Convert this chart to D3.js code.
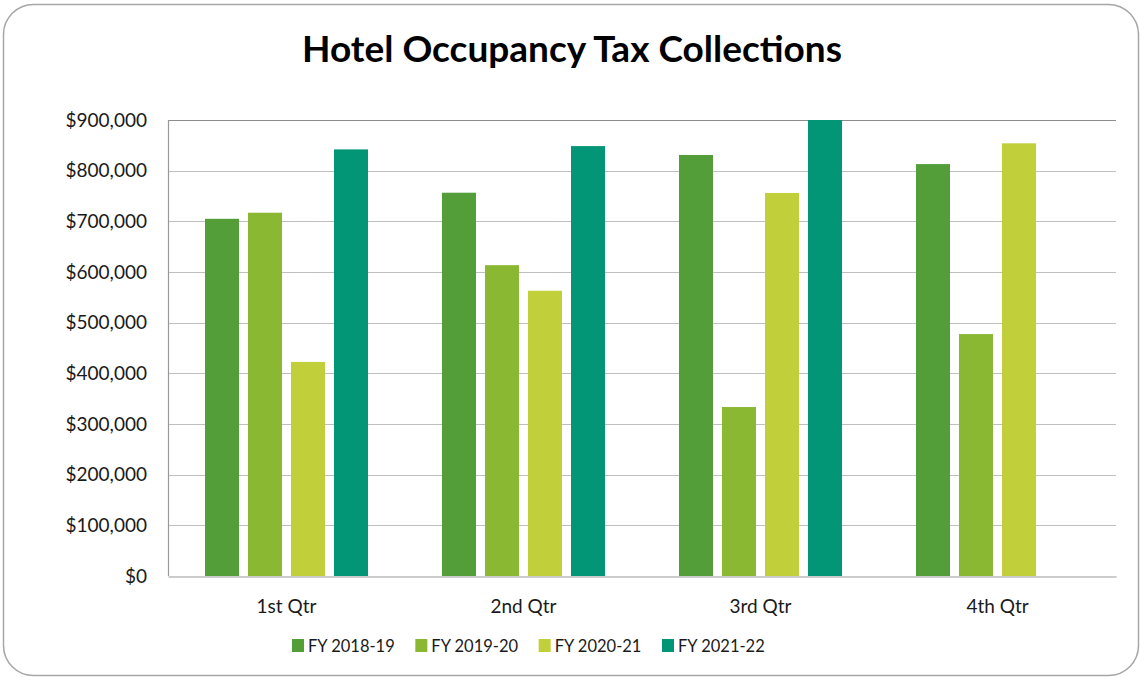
<!DOCTYPE html>
<html>
<head>
<meta charset="utf-8">
<script src="https://cdn.jsdelivr.net/npm/d3@7/dist/d3.min.js"></script>
<style>
  html, body { margin: 0; padding: 0; background: #fff; }
  svg { display: block; }
  text { font-family: Lato, "Open Sans", "Liberation Sans", sans-serif; }
</style>
</head>
<body>
<svg id="chart" width="1140" height="677"></svg>
<script>
// Quarterly hotel occupancy tax collections by fiscal year
const quarters = ["1st Qtr", "2nd Qtr", "3rd Qtr", "4th Qtr"];
const seriesNames = ["FY 2018-19", "FY 2019-20", "FY 2020-21", "FY 2021-22"];
const fy2018_19 = [705000, 756500, 831000, 813000];
const fy2019_20 = [717000, 613500, 333500, 477500];
const fy2020_21 = [422500, 563000, 756000, 854000];
const fy2021_22 = [842000, 848500, 900000, null];
const seriesColors = ["#549E39", "#8AB833", "#C0CF3A", "#029676"];
const yTicks = [0, 100000, 200000, 300000, 400000, 500000, 600000, 700000, 800000, 900000];

const seriesValues = [fy2018_19, fy2019_20, fy2020_21, fy2021_22];
const rows = quarters.map((q, qi) => ({
  quarter: q,
  values: seriesNames.map((s, si) => ({ series: s, value: seriesValues[si][qi] }))
}));

const svg = d3.select("#chart");
const W = 1140, H = 677;
const plot = { left: 168, right: 1116, top: 120, bottom: 576 };

// outer rounded frame
svg.append("rect")
  .attr("x", 3.5).attr("y", 4.5)
  .attr("width", W - 5).attr("height", H - 6)
  .attr("rx", 30).attr("ry", 30)
  .attr("fill", "#fff")
  .attr("stroke", "#a6a6a6").attr("stroke-width", 1.5);

// title
svg.append("text")
  .attr("x", 572).attr("y", 62)
  .attr("text-anchor", "middle")
  .attr("font-size", 37).attr("font-weight", 700)
  .attr("fill", "#000")
  .text("Hotel Occupancy Tax Collections");

const y = d3.scaleLinear().domain([0, 900000]).range([plot.bottom, plot.top]);
const x0 = d3.scaleBand().domain(quarters).range([plot.left, plot.right]).padding(0);
const x1 = d3.scaleBand().domain(seriesNames).range([0, x0.bandwidth()])
  .paddingInner(0.209).paddingOuter(0.86);
const color = d3.scaleOrdinal().domain(seriesNames).range(seriesColors);

// gridlines
svg.append("g")
  .selectAll("line")
  .data(yTicks.filter(t => t > 0))
  .join("line")
  .attr("x1", plot.left).attr("x2", plot.right)
  .attr("y1", d => Math.round(y(d)) + 0.5).attr("y2", d => Math.round(y(d)) + 0.5)
  .attr("stroke", d => d === 900000 ? "#8c8c8c" : "#bfbfbf")
  .attr("stroke-width", 1.2);

// y axis labels
const yAxis = d3.axisLeft(y).tickValues(yTicks).tickSize(0).tickPadding(21)
  .tickFormat(d => "$" + d3.format(",")(d));
const yG = svg.append("g").attr("transform", `translate(${plot.left},0)`).call(yAxis);
yG.select(".domain").remove();
yG.selectAll("text")
  .attr("font-size", 19).attr("fill", "#1a1a1a")
  .attr("font-family", "Lato, 'Open Sans', sans-serif");

// bars
svg.append("g")
  .selectAll("g")
  .data(rows)
  .join("g")
  .attr("transform", d => `translate(${x0(d.quarter)},0)`)
  .selectAll("rect")
  .data(d => d.values.filter(v => v.value != null))
  .join("rect")
  .attr("x", d => x1(d.series))
  .attr("width", x1.bandwidth())
  .attr("y", d => y(d.value))
  .attr("height", d => y(0) - y(d.value))
  .attr("fill", d => color(d.series));

// left and bottom axis lines
svg.append("line")
  .attr("x1", plot.left + 0.5).attr("x2", plot.left + 0.5)
  .attr("y1", plot.top).attr("y2", plot.bottom)
  .attr("stroke", "#999").attr("stroke-width", 1.2);

const xAxis = d3.axisBottom(x0).tickSize(0).tickPadding(23);
const xG = svg.append("g").attr("transform", `translate(0,${plot.bottom + 0.5})`).call(xAxis);
xG.select(".domain").attr("stroke", "#999").attr("stroke-width", 1.2);
xG.selectAll("text")
  .attr("font-size", 19).attr("fill", "#1a1a1a")
  .attr("font-family", "Lato, 'Open Sans', sans-serif");

// legend
const legendX = d3.scalePoint().domain(seriesNames).range([292, 662]);
const legend = svg.append("g")
  .selectAll("g")
  .data(seriesNames)
  .join("g")
  .attr("transform", d => `translate(${legendX(d)},639)`);
legend.append("rect")
  .attr("width", 12).attr("height", 13)
  .attr("fill", d => color(d));
legend.append("text")
  .attr("x", 16).attr("y", 13)
  .attr("font-size", 16.5).attr("fill", "#1a1a1a")
  .text(d => d);
</script>
</body>
</html>
